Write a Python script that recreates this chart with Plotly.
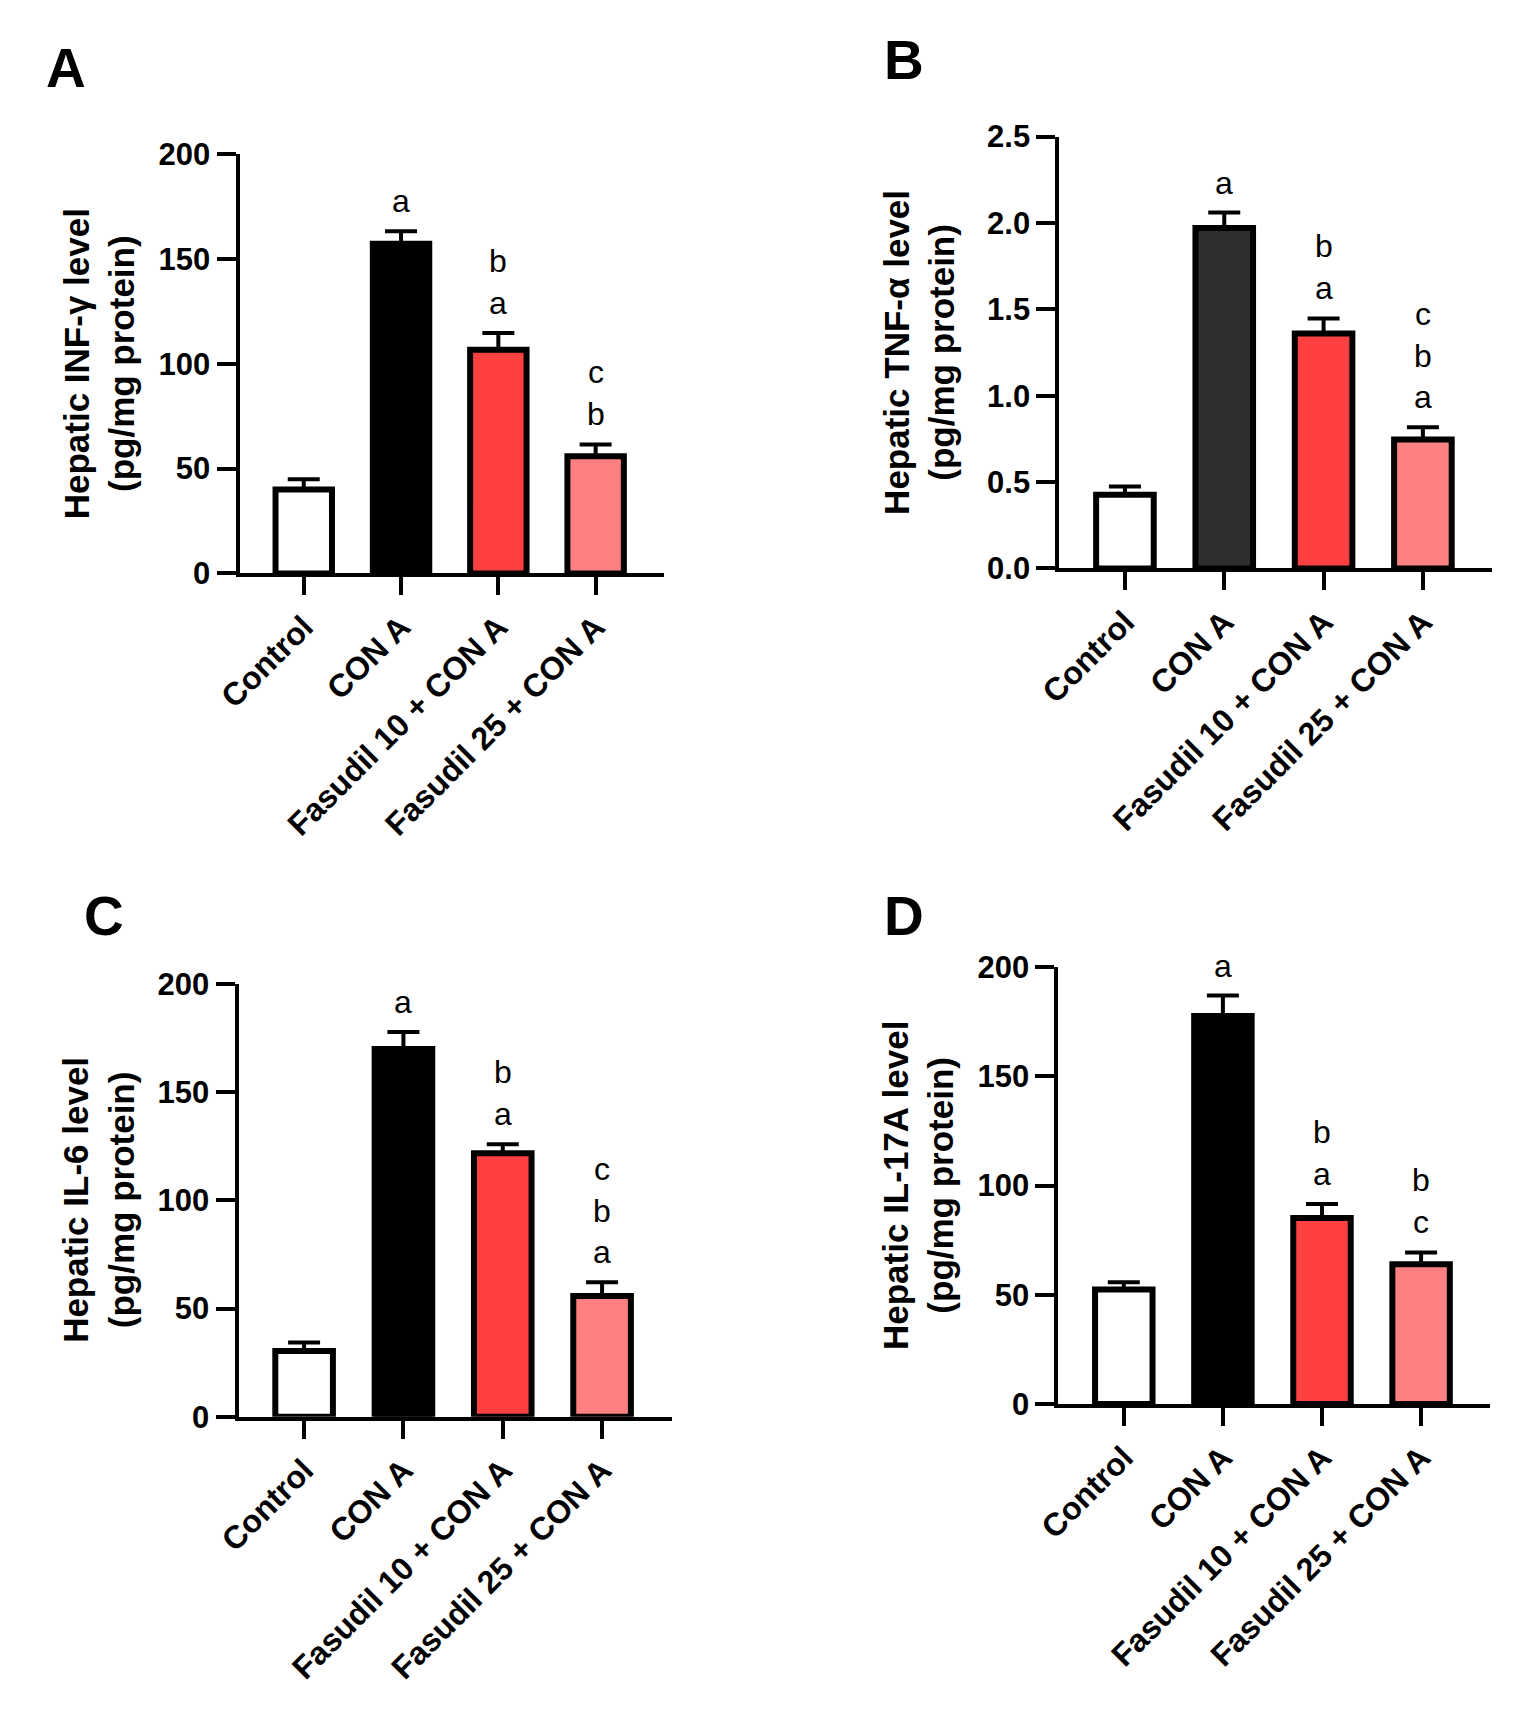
import plotly.graph_objects as go
from plotly.subplots import make_subplots

# ---- data ----
groups = ["Control", "CON A", "Fasudil 10 + CON A", "Fasudil 25 + CON A"]

ifn_mean = [40.0, 157.2, 106.7, 55.9]
ifn_err = [4.9, 6.0, 8.0, 5.6]
ifn_sig = ["", "a", "b<br>a", "c<br>b"]

tnf_mean = [0.427, 1.97, 1.36, 0.747]
tnf_err = [0.047, 0.09, 0.087, 0.071]
tnf_sig = ["", "a", "b<br>a", "c<br>b<br>a"]

il6_mean = [30.4, 169.9, 121.7, 55.8]
il6_err = [3.9, 7.9, 4.2, 6.4]
il6_sig = ["", "a", "b<br>a", "c<br>b<br>a"]

il17_mean = [52.5, 177.6, 85.2, 64.0]
il17_err = [3.3, 9.4, 6.4, 5.4]
il17_sig = ["", "a", "b<br>a", "b<br>c"]

ticks_pg = [0, 50, 100, 150, 200]
ticks_tnf = [0.0, 0.5, 1.0, 1.5, 2.0, 2.5]

W, H = 1519, 1713
FONT = "Liberation Sans"

# panel placement in pixels (axis box left/right, top/bottom)
panels = [
    dict(row=1, col=1, letter="A", mean=ifn_mean, err=ifn_err, sig=ifn_sig,
         title="Hepatic INF-γ level<br>(pg/mg protein)", ticks=ticks_pg, fmt="d",
         x0=219, x1=650, yt=140, yb=568, lx=20, ly=52, dark="#000000"),
    dict(row=1, col=2, letter="B", mean=tnf_mean, err=tnf_err, sig=tnf_sig,
         title="Hepatic TNF-α level<br>(pg/mg protein)", ticks=ticks_tnf, fmt=".1f",
         x0=1052, x1=1492, yt=122, yb=563, lx=872, ly=44, dark="#2e2e2e"),
    dict(row=2, col=1, letter="C", mean=il6_mean, err=il6_err, sig=il6_sig,
         title="Hepatic IL-6 level<br>(pg/mg protein)", ticks=ticks_pg, fmt="d",
         x0=218, x1=658, yt=987, yb=1429, lx=59, ly=918, dark="#000000"),
    dict(row=2, col=2, letter="D", mean=il17_mean, err=il17_err, sig=il17_sig,
         title="Hepatic IL-17A level<br>(pg/mg protein)", ticks=ticks_pg, fmt="d",
         x0=1051, x1=1490, yt=970, yb=1416, lx=872, ly=918, dark="#000000"),
]

fig = make_subplots(rows=2, cols=2)

annotations = []
for k, p in enumerate(panels):
    sfx = "" if k == 0 else str(k + 1)
    colors = ["#ffffff", p["dark"], "#ff4040", "#ff8080"]
    fig.add_trace(go.Bar(
        x=groups, y=p["mean"], width=0.58,
        marker=dict(color=colors, line=dict(color="black", width=6)),
        error_y=dict(type="data", array=p["err"], arrayminus=[0] * len(groups),
                     symmetric=False, color="black", thickness=4, width=16),
        showlegend=False,
    ), row=p["row"], col=p["col"])

    fig.update_xaxes(
        domain=[p["x0"] / W, p["x1"] / W], type="category", range=[-0.66, 3.70],
        showline=True, linewidth=4, linecolor="black", showgrid=False, zeroline=False,
        ticks="outside", ticklen=18, tickwidth=4, tickcolor="black", tickangle=-45,
        tickfont=dict(family=FONT, size=32, color="black", weight="bold"),
        row=p["row"], col=p["col"])
    ymax = p["ticks"][-1]
    fig.update_yaxes(
        domain=[1 - p["yb"] / H, 1 - p["yt"] / H], range=[0, ymax],
        tickvals=p["ticks"], tickformat=p["fmt"],
        showline=True, linewidth=4, linecolor="black", showgrid=False, zeroline=False,
        ticks="outside", ticklen=19, tickwidth=4, tickcolor="black",
        tickfont=dict(family=FONT, size=31, color="black", weight="bold"),
        row=p["row"], col=p["col"])

    # y title
    annotations.append(dict(
        text=p["title"], xref="x" + sfx + " domain", yref="y" + sfx + " domain",
        x=0, y=0.5, xshift=-140, textangle=-90, showarrow=False,
        xanchor="center", yanchor="middle",
        font=dict(family=FONT, size=35, color="black", weight="bold")))
    # panel letter
    annotations.append(dict(
        text=p["letter"], xref="paper", yref="paper", x=p["lx"] / W, y=1 - p["ly"] / H,
        xanchor="left", yanchor="middle", showarrow=False,
        font=dict(family=FONT, size=55, color="black", weight="bold")))
    # significance letters
    for g, m, e, s in zip(groups, p["mean"], p["err"], p["sig"]):
        if not s:
            continue
        annotations.append(dict(
            text=s, xref="x" + sfx, yref="y" + sfx, x=g, y=m + e, yshift=10,
            xanchor="center", yanchor="bottom", showarrow=False,
            font=dict(family=FONT, size=32, color="black")))

fig.update_layout(
    width=W, height=H, autosize=False,
    margin=dict(l=0, r=0, t=0, b=0),
    paper_bgcolor="white", plot_bgcolor="white",
    annotations=annotations,
)

fig.write_html("out.html", config={"displayModeBar": False},
               post_script="document.body.style.margin='0';")
